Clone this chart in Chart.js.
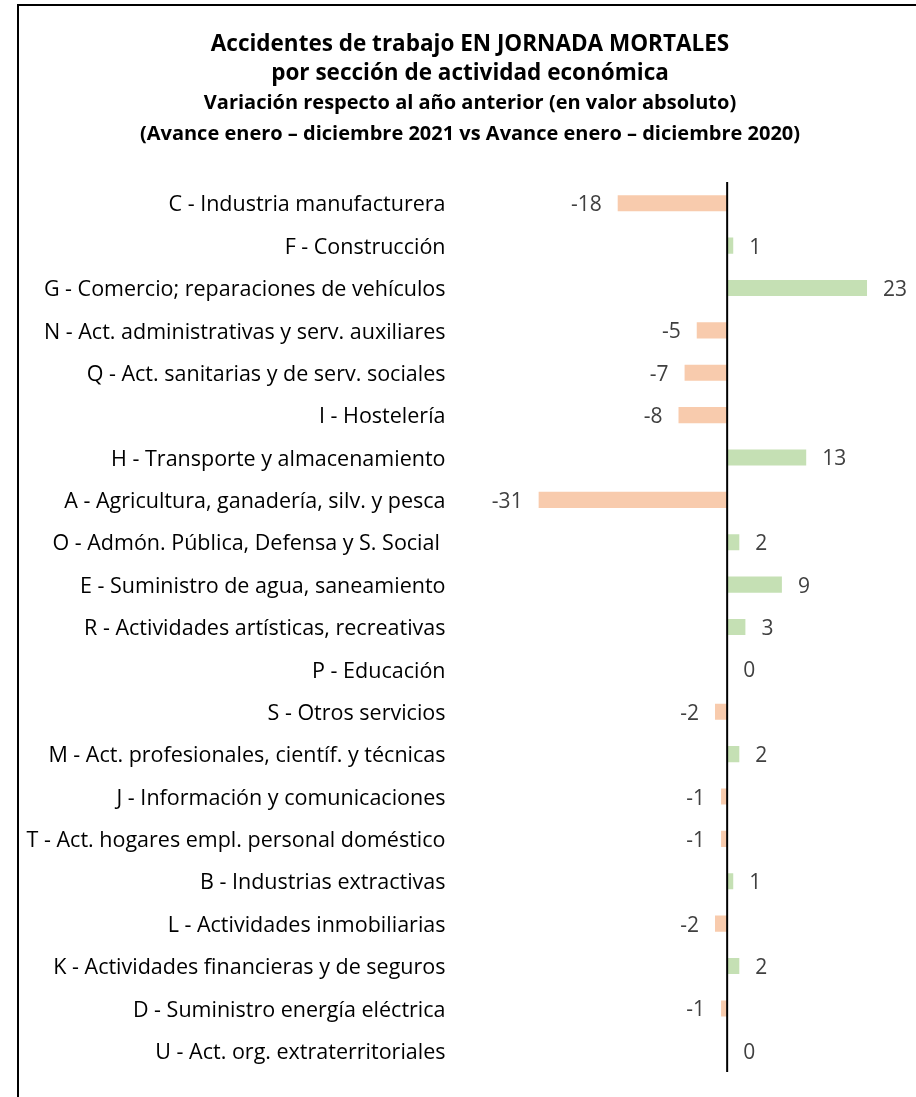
<!DOCTYPE html>
<html>
<head>
<meta charset="utf-8">
<script src="https://cdn.jsdelivr.net/npm/chart.js@4"></script>
<style>
  html, body { margin: 0; padding: 0; background: #fff; overflow: hidden; }
  #wrap { position: relative; width: 940px; height: 1097px; }
</style>
</head>
<body>
<div id="wrap"><canvas id="accidents-chart"></canvas></div>
<script>
const categories = [
  "C - Industria manufacturera",
  "F - Construcción",
  "G - Comercio; reparaciones de vehículos",
  "N - Act. administrativas y serv. auxiliares",
  "Q - Act. sanitarias y de serv. sociales",
  "I - Hostelería",
  "H - Transporte y almacenamiento",
  "A - Agricultura, ganadería, silv. y pesca",
  "O - Admón. Pública, Defensa y S. Social ",
  "E - Suministro de agua, saneamiento",
  "R - Actividades artísticas, recreativas",
  "P - Educación",
  "S - Otros servicios",
  "M - Act. profesionales, científ. y técnicas",
  "J - Información y comunicaciones",
  "T - Act. hogares empl. personal doméstico",
  "B - Industrias extractivas",
  "L - Actividades inmobiliarias",
  "K - Actividades financieras y de seguros",
  "D - Suministro energía eléctrica",
  "U - Act. org. extraterritoriales",
];
const variation = [-18, 1, 23, -5, -7, -8, 13, -31, 2, 9, 3, 0, -2, 2, -1, -1, 1, -2, 2, -1, 0];
const titleLines = [
  "Accidentes de trabajo EN JORNADA MORTALES",
  "por sección de actividad económica",
];
const subtitleLines = [
  "Variación respecto al año anterior (en valor absoluto)",
  "(Avance enero – diciembre 2021 vs Avance enero – diciembre 2020)",
];

const FONT = "'Open Sans', Lato, sans-serif";

// frame around the chart (only left and top edges are inside the picture)
const framePlugin = {
  id: "frame",
  afterDraw(chart) {
    const ctx = chart.ctx;
    ctx.save();
    ctx.strokeStyle = "#000";
    ctx.lineWidth = 2;
    ctx.beginPath();
    ctx.moveTo(18, chart.height);
    ctx.lineTo(18, 5);
    ctx.lineTo(chart.width, 5);
    ctx.stroke();
    ctx.restore();
  },
};

// vertical line at zero
const zeroLinePlugin = {
  id: "zeroLine",
  afterDatasetsDraw(chart) {
    const ctx = chart.ctx;
    const x = chart.scales.x.getPixelForValue(0);
    ctx.save();
    ctx.strokeStyle = "#000";
    ctx.lineWidth = 2;
    ctx.beginPath();
    ctx.moveTo(x, chart.chartArea.top);
    ctx.lineTo(x, chart.chartArea.bottom);
    ctx.stroke();
    ctx.restore();
  },
};

// value labels next to each bar
const valueLabelPlugin = {
  id: "valueLabels",
  afterDatasetsDraw(chart) {
    const ctx = chart.ctx;
    const meta = chart.getDatasetMeta(0);
    ctx.save();
    ctx.font = "21px " + FONT;
    ctx.fillStyle = "#404040";
    ctx.textBaseline = "middle";
    meta.data.forEach((bar, i) => {
      const v = variation[i];
      if (v < 0) {
        ctx.textAlign = "right";
        ctx.fillText(String(v), bar.x - 16, bar.y + 2);
      } else {
        ctx.textAlign = "left";
        ctx.fillText(String(v), bar.x + 16, bar.y + 2);
      }
    });
    ctx.restore();
  },
};

new Chart(document.getElementById("accidents-chart"), {
  type: "bar",
  data: {
    labels: categories,
    datasets: [
      {
        data: variation,
        backgroundColor: (c) => (c.raw < 0 ? "#F8CBAD" : "#C5E0B4"),
        categoryPercentage: 1,
        barPercentage: 0.38,
      },
    ],
  },
  options: {
    indexAxis: "y",
    responsive: true,
    maintainAspectRatio: false,
    animation: false,
    layout: {
      padding: { left: 0, right: 0, top: 30, bottom: 25 },
    },
    plugins: {
      legend: { display: false },
      tooltip: { enabled: false },
      title: {
        display: true,
        text: titleLines,
        color: "#000",
        font: { family: FONT, size: 22.5, weight: "bold", lineHeight: 1.29 },
        padding: { top: 0, bottom: 0 },
      },
      subtitle: {
        display: true,
        text: subtitleLines,
        color: "#000",
        font: { family: FONT, size: 20, weight: "bold", lineHeight: 1.55 },
        padding: { top: 0, bottom: 32 },
      },
    },
    scales: {
      x: {
        display: false,
        min: -45,
        max: 35,
      },
      y: {
        grid: { display: false, drawTicks: false },
        border: { display: false },
        ticks: {
          color: "#000",
          padding: 8,
          labelOffset: 2,
          font: { family: FONT, size: 21.5 },
        },
        afterFit(scale) {
          scale.width = 453.5;
        },
      },
    },
  },
  plugins: [framePlugin, zeroLinePlugin, valueLabelPlugin],
});
</script>
</body>
</html>
